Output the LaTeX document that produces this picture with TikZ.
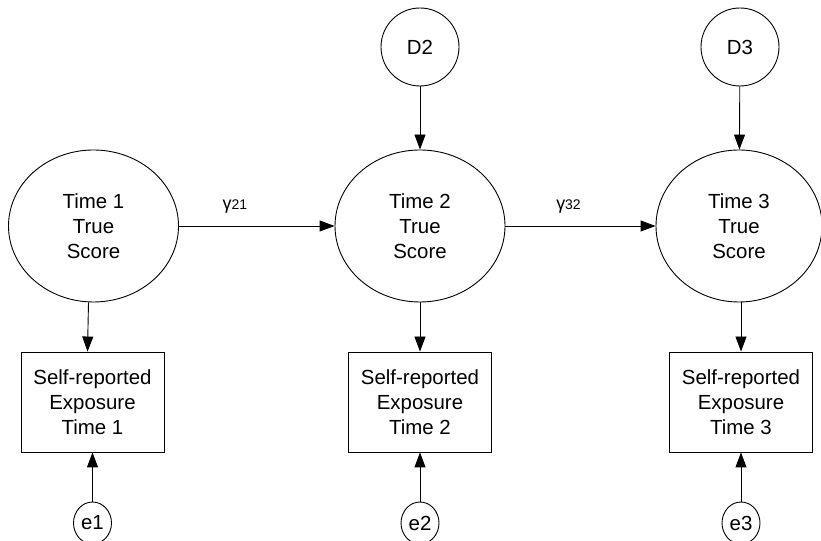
\documentclass[tikz,border=0pt]{standalone}
\usepackage{fontspec}
\setmainfont{Liberation Sans}
\usetikzlibrary{arrows.meta,shapes.geometric}
\newcommand{\pathfont}{\fontsize{20.5}{25}\selectfont}
\newcommand{\coefsym}[2]{{\fontsize{18}{20}\selectfont γ}{\fontsize{14}{15}\selectfont #1#2}}
\tikzset{
	latent/.style={draw, ellipse, minimum width=170bp, minimum height=152bp, inner sep=0pt, align=center},
	observed/.style={draw, rectangle, minimum width=143bp, minimum height=100bp, inner sep=0pt, align=center},
	disturb/.style={draw, circle, minimum size=78bp, inner sep=0pt},
	errterm/.style={draw, ellipse, minimum width=38bp, minimum height=42bp, inner sep=0pt},
	regpath/.style={-{Triangle[length=15bp,width=11bp]}},
	coef/.style={above=12bp, inner sep=0pt}
}

\begin{document}
\begin{tikzpicture}[x=1bp, y=1bp, line width=0.9bp, font=\pathfont]
			%%%%% START %%%%%
			\useasboundingbox (0, 0) rectangle (821, 541);
			
			% true scores
			\node[latent] (t1) at (93.5, 315) {Time 1\\True\\Score};
			\node[latent] (t2) at (420, 315) {Time 2\\True\\Score};
			\node[latent, minimum width=166bp] (t3) at (739, 315) {Time 3\\True\\Score};
			
			% disturbances
			\node[disturb] (d2) at (420, 494) {D2};
			\node[disturb] (d3) at (740, 494) {D3};
			
			% measures
			\node[observed] (s1) at (92.5, 139) {Self-reported\\Exposure\\Time 1};
			\node[observed] (s2) at (420, 139) {Self-reported\\Exposure\\Time 2};
			\node[observed] (s3) at (741, 139) {Self-reported\\Exposure\\Time 3};
			
			\node[errterm] (e1) at (92.5, 18) {e1};
			\node[errterm] (e2) at (420, 18) {e2};
			\node[errterm] (e3) at (741, 18) {e3};
			
			% paths
			\draw[regpath] (t1) -- node[coef, pos=0.36] {\coefsym21} (t2);
			\draw[regpath] (t2) -- node[coef, pos=0.42] {\coefsym32} (t3);
			
			\draw[regpath] (d2) -- (t2);
			\draw[regpath] (d3) -- (t3);
			
			\draw[regpath] ([xshift=-5bp]t1.south) -- ([xshift=-5bp]s1.north);
			\draw[regpath] (t2) -- (s2);
			\draw[regpath] (t3.south -| s3) -- (s3);
			
			\draw[regpath] (e1) -- (s1);
			\draw[regpath] (e2) -- (s2);
			\draw[regpath] (e3) -- (s3);
			
			%%%%% END %%%%%
\end{tikzpicture}
\end{document}
